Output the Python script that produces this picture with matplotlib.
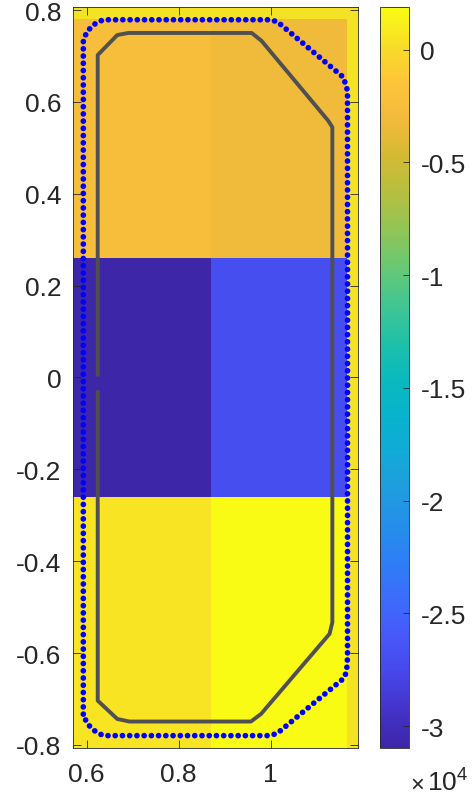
import numpy as np
import matplotlib
matplotlib.use("Agg")
import matplotlib.pyplot as plt
from matplotlib.colors import LinearSegmentedColormap

# cell edges and values of the field
x_edges = [0.56, 0.87, 1.165]
y_edges = [-0.81, -0.26, 0.26, 0.78]
cell_values = [
    [580, 1894],          # bottom row
    [-30963, -27000],     # middle row
    [-2400, -3200],       # top row
]
clim = (-30963, 1894)

# gray outline (open at the left side near y=0)
gray_x = [0.624, 0.624, 0.6665, 0.6927, 0.957, 0.979, 1.128, 1.134,
          1.134, 1.125, 0.980, 0.9587, 0.690, 0.6665, 0.624, 0.624]
gray_y = [-0.028, -0.7035, -0.7434, -0.749, -0.749, -0.7325, -0.558, -0.533,
          0.545, 0.559, 0.733, 0.750, 0.750, 0.7455, 0.702, 0.002]

# blue dotted boundary
blue_x = [0.5927, 0.5927, 0.600, 0.6093, 0.6196, 0.636, 0.9985, 1.0145,
          1.158, 1.1626, 1.167, 1.167, 1.165, 1.159, 1.0145, 0.9985,
          0.636, 0.6196, 0.6093, 0.600, 0.5927]
blue_y = [-0.733, 0.733, 0.7514, 0.7623, 0.771, 0.7788, 0.7788, 0.7745,
          0.6535, 0.639, 0.624, -0.609, -0.640, -0.6548, -0.7745, -0.7797,
          -0.7797, -0.771, -0.7623, -0.7514, -0.733]

cbar_ticks = [-30000, -25000, -20000, -15000, -10000, -5000, 0]
cbar_labels = ['-3', '-2.5', '-2', '-1.5', '-1', '-0.5', '0']
x_ticks = [0.6, 0.8, 1.0]
x_labels = ['0.6', '0.8', '1']
y_ticks = [-0.8, -0.6, -0.4, -0.2, 0, 0.2, 0.4, 0.6, 0.8]
y_labels = ['-0.8', '-0.6', '-0.4', '-0.2', '0', '0.2', '0.4', '0.6', '0.8']

# parula-like colormap
parula_pts = [
    (0.00, (0.2422, 0.1504, 0.6603)),
    (0.05, (0.2670, 0.1990, 0.7950)),
    (0.10, (0.2780, 0.2800, 0.9200)),
    (0.15, (0.2770, 0.3500, 0.9800)),
    (0.20, (0.2400, 0.4200, 0.9800)),
    (0.25, (0.1800, 0.4950, 0.9650)),
    (0.30, (0.1450, 0.5600, 0.9150)),
    (0.35, (0.1200, 0.6150, 0.8700)),
    (0.40, (0.0700, 0.6650, 0.8450)),
    (0.45, (0.0250, 0.7050, 0.8000)),
    (0.50, (0.0400, 0.7300, 0.7400)),
    (0.55, (0.1300, 0.7550, 0.6600)),
    (0.60, (0.2600, 0.7750, 0.5700)),
    (0.65, (0.4100, 0.7850, 0.4500)),
    (0.70, (0.5700, 0.7700, 0.3400)),
    (0.75, (0.7100, 0.7500, 0.2500)),
    (0.80, (0.8300, 0.7300, 0.2000)),
    (0.85, (0.9500, 0.7300, 0.2300)),
    (0.90, (0.9950, 0.7700, 0.2300)),
    (0.95, (0.9700, 0.8700, 0.1500)),
    (1.00, (0.9769, 0.9839, 0.0805)),
]
parula = LinearSegmentedColormap.from_list('parula', parula_pts)

plt.rcParams['font.family'] = ['Liberation Sans', 'DejaVu Sans']
plt.rcParams['mathtext.fontset'] = 'custom'
plt.rcParams['mathtext.rm'] = 'Liberation Sans'
plt.rcParams['mathtext.it'] = 'Liberation Sans'
plt.rcParams['axes.linewidth'] = 0.6
axis_col = '#262626'

fig = plt.figure(figsize=(4.73, 8.03), dpi=100)
ax = fig.add_axes([0.1537, 0.0676, 0.6032, 0.9224])
cax = fig.add_axes([0.8034, 0.0676, 0.0619, 0.9224])

ax.set_facecolor('#F4E324')
mesh = ax.pcolormesh(x_edges, y_edges, np.array(cell_values), cmap=parula,
                     vmin=clim[0], vmax=clim[1], shading='flat')

ax.plot(gray_x, gray_y, color='#505050', lw=2.8, solid_capstyle='butt')
ax.plot(blue_x, blue_y, color='#0000FF', lw=4.1, linestyle=(0, (0.01, 1.26)),
        dash_capstyle='round')

ax.set_xlim(0.5696, 1.1898)
ax.set_ylim(-0.806, 0.8065)
ax.set_xticks(x_ticks)
ax.set_xticklabels(x_labels)
ax.set_yticks(y_ticks)
ax.set_yticklabels(y_labels)
ax.tick_params(direction='in', top=True, right=True, length=5.8, width=0.6,
               color=axis_col, labelsize=19, labelcolor=axis_col)
ax.tick_params(axis='x', pad=10)
ax.tick_params(axis='y', pad=8)
for s in ax.spines.values():
    s.set_color(axis_col)

cb = fig.colorbar(mesh, cax=cax)
cb.set_ticks(cbar_ticks)
cb.set_ticklabels(cbar_labels)
cb.outline.set_edgecolor(axis_col)
cb.outline.set_linewidth(0.6)
cax.tick_params(direction='in', length=4.5, width=0.6, color=axis_col,
                labelsize=19, labelcolor=axis_col, pad=8)
cax.text(1.05, -0.058, '\u00d7', transform=cax.transAxes,
         fontsize=17, color=axis_col, ha='left', va='baseline')
cax.text(1.62, -0.058, r'$10^{4}$', transform=cax.transAxes,
         fontsize=19, color=axis_col, ha='left', va='baseline')

fig.savefig('out.png', dpi=100)
